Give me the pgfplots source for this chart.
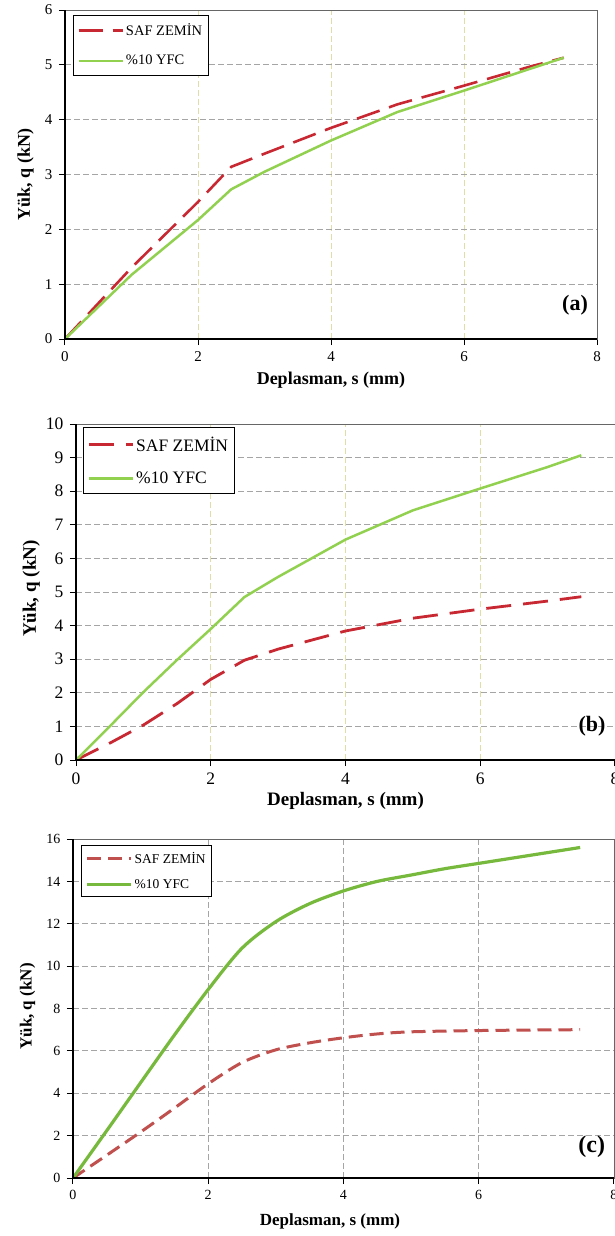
\documentclass[border=0pt]{standalone}
\usepackage{fontspec}
\setmainfont{Liberation Serif}
\usepackage{pgfplots}
\pgfplotsset{compat=1.18}

\definecolor{redA}{RGB}{200,40,50}
\definecolor{greenA}{RGB}{146,208,80}
\definecolor{redC}{RGB}{192,80,77}
\definecolor{greenC}{RGB}{118,185,60}
\definecolor{gridH}{RGB}{165,165,165}
\definecolor{gridV}{RGB}{222,222,165}

\pgfplotsset{
  panel/.style={
    scale only axis,
    xmin=0, xmax=8, ymin=0,
    xtick distance=2,
    tick align=outside,
    xtick pos=left, ytick pos=left,
    major tick length=6pt,
    every tick/.style={black, line width=1pt},
    axis line style={draw=black!60, line width=0.9pt},
    grid=major,
    y grid style={gridH, line width=0.8pt, dash pattern=on 6pt off 3pt},
    x grid style={gridV, line width=0.8pt, dash pattern=on 6pt off 3pt},
    /pgf/number format/assume math mode=true,
    legend cell align=left,
    legend image code/.code={\draw[##1] (0pt,0pt) -- (44pt,0pt);},
    xticklabel style={yshift=-3pt},
    yticklabel style={xshift=-3pt},
    after end axis/.code={\draw[black, line width=1.8pt]
      (rel axis cs:0,1) -- (rel axis cs:0,0) -- (rel axis cs:1,0);},
  }
}

\begin{document}
\begin{tikzpicture}
\useasboundingbox (0,0) rectangle (615pt,-1236pt);
\clip (0,0) rectangle (615pt,-1236pt);

% ---------------- (a)
\begin{axis}[panel,
  at={(65pt,-339pt)}, anchor=south west,
  width=532pt, height=329pt,
  ymax=6, ytick distance=1,
  tick label style={font=\fontsize{15}{18}\selectfont},
  xlabel={\textbf{Deplasman, s (mm)}},
  ylabel={\textbf{Yük, q (kN)}},
  label style={font=\fontsize{18}{21}\selectfont},
  xlabel style={at={(axis description cs:0.5,-0.125)}, anchor=center},
  ylabel style={at={(axis description cs:-0.074,0.5)}, anchor=center},
  legend style={at={(axis description cs:0.015,0.985)}, anchor=north west,
    draw=black, line width=0.8pt, fill=white, font=\fontsize{14.5}{16}\selectfont,
    inner xsep=4pt, inner ysep=6.5pt, row sep=14pt, nodes={inner sep=2pt}},
]
\addplot[redA, line width=2.6pt, dash pattern=on 24pt off 10pt] coordinates {
  (0,0) (1,1.3) (2,2.5) (2.5,3.14) (3,3.38) (4,3.85) (5,4.28) (6,4.62) (7,4.97) (7.5,5.13)};
\addlegendentry{SAF ZEMİN}
\addplot[greenA, line width=2.5pt] coordinates {
  (0,0) (1,1.17) (2,2.17) (2.5,2.73) (3,3.05) (4,3.62) (5,4.14) (6,4.53) (7,4.93) (7.5,5.13)};
\addlegendentry{\%10 YFC}
\node[font=\bfseries\fontsize{22}{24}\selectfont] at (axis cs:7.67,0.62) {(a)};
\end{axis}

% ---------------- (b)
\begin{axis}[panel,
  at={(76pt,-760pt)}, anchor=south west,
  width=539pt, height=336pt,
  ymax=10, ytick distance=1,
  tick label style={font=\fontsize{17.5}{20}\selectfont},
  xlabel={\textbf{Deplasman, s (mm)}},
  ylabel={\textbf{Yük, q (kN)}},
  label style={font=\fontsize{19}{22}\selectfont},
  xlabel style={at={(axis description cs:0.5,-0.122)}, anchor=center},
  ylabel style={at={(axis description cs:-0.083,0.51)}, anchor=center},
  legend style={at={(axis description cs:0.013,0.99)}, anchor=north west,
    draw=black, line width=0.8pt, fill=white, font=\fontsize{17.5}{20}\selectfont,
    inner xsep=4pt, inner ysep=7pt, row sep=15pt, nodes={inner sep=2pt}},
]
\addplot[redA, line width=2.8pt, dash pattern=on 25pt off 12pt] coordinates {
  (0,0) (0.5,0.5) (1,1.04) (1.5,1.68) (2,2.4) (2.5,2.97) (3,3.3) (4,3.84) (5,4.22) (6,4.49) (7,4.73) (7.5,4.86)};
\addlegendentry{SAF ZEMİN}
\addplot[greenA, line width=2.5pt] coordinates {
  (0,0) (0.5,1.0) (1,2.02) (1.5,2.98) (2,3.9) (2.5,4.85) (3,5.45) (4,6.56) (5,7.43) (6,8.08) (7,8.72) (7.5,9.07)};
\addlegendentry{\%10 YFC}
\node[font=\bfseries\fontsize{22}{24}\selectfont] at (axis cs:7.66,1.01) {(b)};
\end{axis}

% ---------------- (c)
\begin{axis}[panel,
  at={(73pt,-1178pt)}, anchor=south west,
  width=541pt, height=339pt,
  ymax=16, ytick distance=2,
  x grid style={gridH, line width=0.8pt, dash pattern=on 6pt off 3pt},
  tick label style={font=\fontsize{14}{17}\selectfont},
  xlabel={\textbf{Deplasman, s (mm)}},
  ylabel={\textbf{Yük, q (kN)}},
  label style={font=\fontsize{17}{20}\selectfont},
  xlabel style={at={(axis description cs:0.475,-0.127)}, anchor=center},
  ylabel style={at={(axis description cs:-0.084,0.506)}, anchor=center},
  legend style={at={(axis description cs:0.015,0.982)}, anchor=north west,
    draw=black, line width=0.8pt, fill=white, font=\fontsize{13.5}{16}\selectfont,
    inner xsep=4pt, inner ysep=5pt, row sep=10pt, nodes={inner sep=2pt}},
]
\addplot[redC, line width=3pt, dash pattern=on 14pt off 7pt, smooth, tension=0.5] coordinates {
  (0,0) (0.5,1.08) (1,2.17) (1.5,3.3) (2,4.45) (2.5,5.45) (3,6.05) (3.5,6.38) (4,6.62) (4.5,6.8) (5,6.9) (6,6.96) (7,6.99) (7.5,7.0)};
\addlegendentry{SAF ZEMİN}
\addplot[greenC, line width=3.2pt, smooth, tension=0.5] coordinates {
  (0,0) (0.5,2.24) (1,4.5) (1.5,6.75) (2,8.9) (2.5,10.85) (3,12.1) (3.5,12.95) (4,13.55) (4.5,14.0) (5,14.3) (5.5,14.6) (6,14.85) (6.5,15.1) (7,15.35) (7.5,15.6)};
\addlegendentry{\%10 YFC}
\node[font=\bfseries\fontsize{24}{26}\selectfont] at (axis cs:7.67,1.46) {(c)};
\end{axis}
\end{tikzpicture}
\end{document}
